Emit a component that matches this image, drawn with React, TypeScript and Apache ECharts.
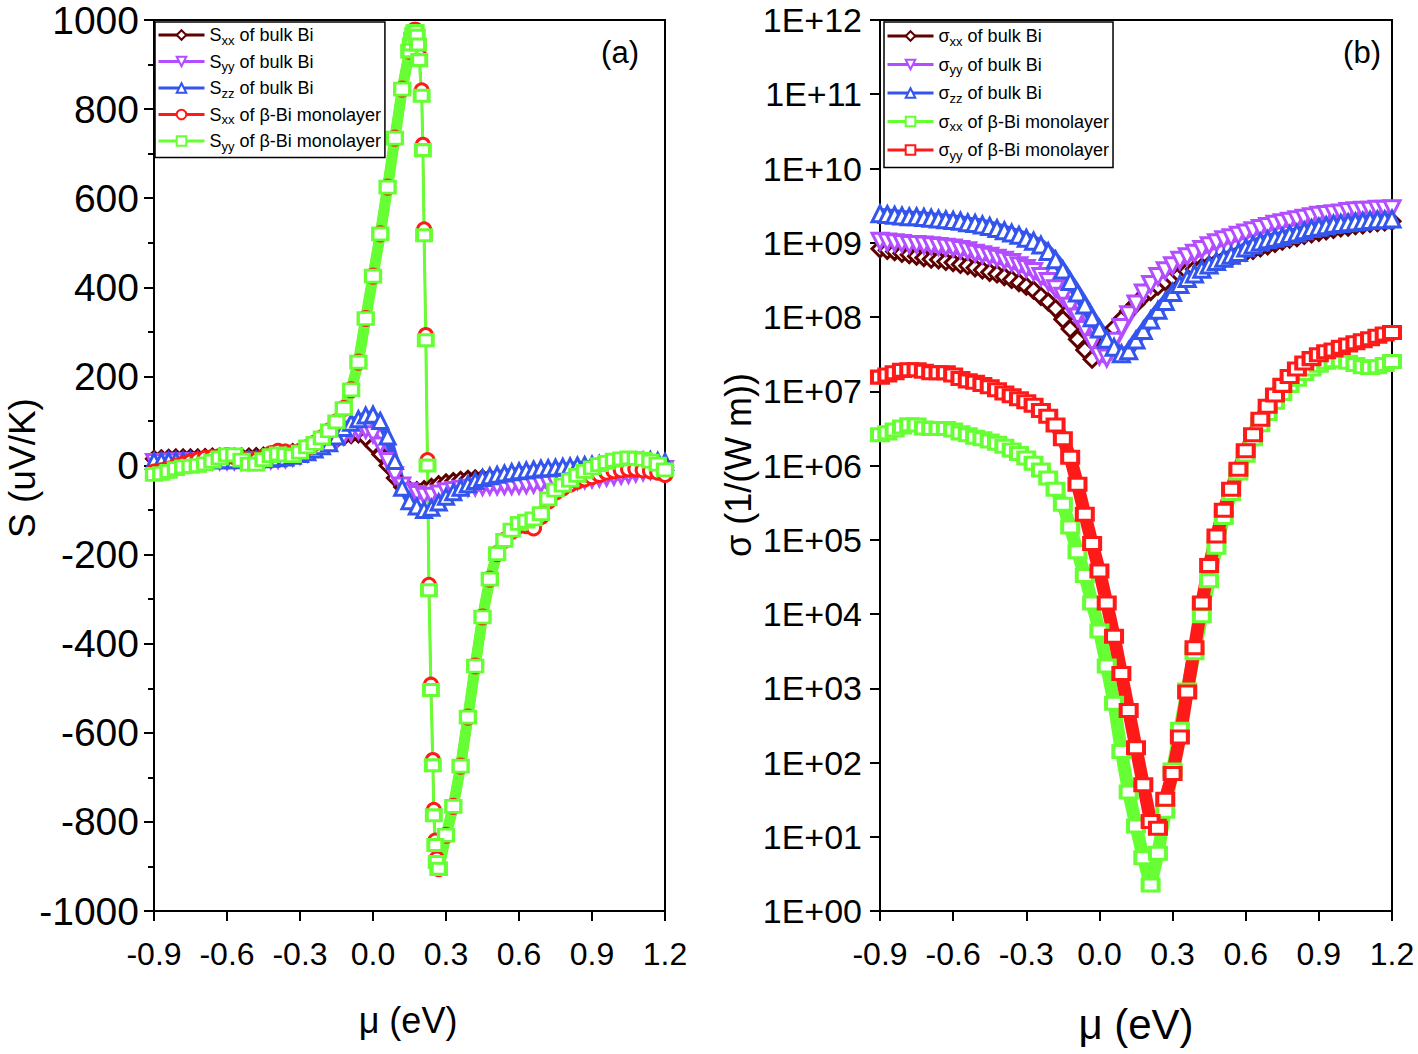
import React, { useEffect, useRef } from "react";
import * as echarts from "echarts";

// Shared chemical-potential grid (eV)
const MU = [
  -0.9, -0.87, -0.84, -0.81, -0.78, -0.75, -0.72, -0.69, -0.66, -0.63,
  -0.6, -0.57, -0.54, -0.51, -0.48, -0.45, -0.42, -0.39, -0.36, -0.33,
  -0.3, -0.27, -0.24, -0.21, -0.18, -0.15, -0.12, -0.09, -0.06, -0.03,
  0, 0.03, 0.06, 0.09, 0.12, 0.15, 0.18, 0.21, 0.24, 0.27,
  0.3, 0.33, 0.36, 0.39, 0.42, 0.45, 0.48, 0.51, 0.54, 0.57,
  0.6, 0.63, 0.66, 0.69, 0.72, 0.75, 0.78, 0.81, 0.84, 0.87,
  0.9, 0.93, 0.96, 0.99, 1.02, 1.05, 1.08, 1.11, 1.14, 1.17,
  1.2,
];

// Panel (a): Seebeck coefficient (uV/K)
const S_XX_BULK = [
  15, 16, 17, 18, 18, 18, 18, 19, 20, 20,
  20, 20, 20, 20, 21, 22, 24, 26, 28, 30,
  33, 37, 41, 46, 52, 58, 64, 68, 70, 62,
  45, 25, 0, -28, -48, -54, -55, -53, -48, -42,
  -38, -35, -32, -30, -29, -28, -27, -26, -26, -25,
  -24, -23, -22, -21, -20, -19, -18, -17, -16, -15,
  -14, -13, -12, -11, -10, -9, -8, -7, -6, -5,
  -4,
];
const S_YY_BULK = [
  8, 8, 9, 9, 9, 10, 10, 10, 10, 10,
  10, 10, 10, 11, 11, 11, 12, 13, 14, 18,
  22, 28, 35, 42, 50, 58, 66, 73, 78, 80,
  70, 45, 10, -22, -45, -58, -64, -68, -68, -63,
  -58, -55, -52, -50, -49, -48, -47, -47, -46, -46,
  -45, -44, -43, -42, -41, -40, -39, -37, -35, -33,
  -31, -29, -27, -25, -23, -21, -18, -15, -12, -10,
  -8,
];
const S_ZZ_BULK = [
  10, 10, 11, 11, 11, 11, 12, 12, 12, 12,
  12, 12, 13, 13, 13, 14, 15, 16, 18, 22,
  26, 30, 36, 43, 50, 65, 84, 96, 104, 112,
  114, 100, 65, 10, -50, -80, -92, -100, -95, -83,
  -70, -60, -50, -42, -35, -28, -24, -21, -18, -15,
  -13, -11, -9, -7, -6, -5, -3, -2, 0, 1,
  2, 3, 4, 5, 6, 8, 10, 11, 12, 10,
  8,
];
const S_XX_MONO = [
  -15, -12, -8, -2, 3, 8, 12, 16, 18, 20,
  22, 20, 14, 10, 12, 18, 26, 32, 30, 28,
  32, 40, 50, 62, 78, 98, 128, 170, 232, 330,
  425, 520, 625, 735, 845, 930, null, null, null, -905,
  -830, -765, -675, -565, -450, -340, -255, -198, -168, -148,
  -135, -135, -140, -115, -80, -60, -50, -42, -35, -30,
  -25, -20, -15, -12, -10, -8, -8, -10, -12, -15,
  -20,
];
const S_YY_MONO = [
  -20, -18, -13, -7, -3, -2, 0, 4, 10, 17,
  24, 24, 12, 3, 3, 13, 22, 26, 24, 22,
  30, 42, 50, 62, 78, 98, 128, 170, 232, 330,
  425, 520, 625, 735, 845, 930, null, null, null, -905,
  -830, -765, -675, -565, -450, -340, -255, -198, -168, -145,
  -130, -125, -120, -108, -75, -55, -44, -33, -22, -13,
  -5, 2, 7, 12, 15, 17, 16, 14, 10, 3,
  -10,
];
// The steep peak-to-valley drop of the monolayer curves
const MU_DROP = [0.15, 0.155, 0.16, 0.165, 0.17, 0.175, 0.18, 0.185, 0.19, 0.2, 0.205, 0.21, 0.217, 0.224, 0.23, 0.238, 0.246, 0.25, 0.256, 0.262, 0.27];
const S_XX_MONO_DROP = [935, 950, 962, 972, 978, 978, 970, 952, 920, 842, 720, 530, 293, 12, -268, -492, -661, -773, -842, -882, -900];
const S_YY_MONO_DROP = [930, 945, 958, 968, 974, 975, 965, 945, 910, 830, 708, 517, 281, 0, -280, -504, -673, -785, -852, -890, -905];

// Panel (b): electrical conductivity (1/(W m))
const SIG_XX_BULK = [
  8.3e8, 7.9e8, 7.6e8, 7.2e8, 6.9e8, 6.6e8, 6.3e8, 6.0e8, 5.9e8, 5.6e8,
  5.4e8, 5.1e8, 4.9e8, 4.6e8, 4.3e8, 4.0e8, 3.8e8, 3.5e8, 3.2e8, 2.9e8,
  2.6e8, 2.3e8, 1.9e8, 1.6e8, 1.3e8, 9.3e7, 6.9e7, 5.0e7, 3.6e7, 2.7e7,
  3.5e7, 5.2e7, 7.1e7, 9.3e7, 1.2e8, 1.5e8, 1.9e8, 2.2e8, 2.6e8, 3.0e8,
  3.4e8, 3.7e8, 4.1e8, 4.4e8, 4.7e8, 5.0e8, 5.4e8, 5.9e8, 6.3e8, 6.9e8,
  7.4e8, 7.9e8, 8.5e8, 9.1e8, 9.8e8, 1.05e9, 1.12e9, 1.17e9, 1.26e9, 1.32e9,
  1.38e9, 1.45e9, 1.51e9, 1.58e9, 1.62e9, 1.7e9, 1.74e9, 1.82e9, 1.86e9, 1.91e9,
  1.95e9,
];
const SIG_YY_BULK = [
  1.05e9, 1.02e9, 1.0e9, 9.8e8, 9.5e8, 9.5e8, 9.3e8, 9.1e8, 8.9e8, 8.7e8,
  8.5e8, 8.1e8, 7.8e8, 7.2e8, 6.9e8, 6.6e8, 6.2e8, 5.8e8, 5.4e8, 4.9e8,
  4.5e8, 4.1e8, 3.5e8, 3.0e8, 2.4e8, 1.9e8, 1.4e8, 1.0e8, 6.8e7, 4.5e7,
  3.0e7, 2.8e7, 4.7e7, 7.2e7, 1.07e8, 1.5e8, 2.1e8, 2.75e8, 3.5e8, 4.2e8,
  4.9e8, 5.8e8, 6.5e8, 7.2e8, 8.1e8, 9.1e8, 1.0e9, 1.1e9, 1.17e9, 1.26e9,
  1.35e9, 1.45e9, 1.55e9, 1.66e9, 1.78e9, 1.86e9, 1.95e9, 2.04e9, 2.14e9, 2.24e9,
  2.34e9, 2.4e9, 2.45e9, 2.51e9, 2.63e9, 2.69e9, 2.75e9, 2.75e9, 2.82e9, 2.82e9,
  2.88e9,
];
const SIG_ZZ_BULK = [
  2.45e9, 2.4e9, 2.34e9, 2.29e9, 2.24e9, 2.24e9, 2.19e9, 2.14e9, 2.09e9, 2.04e9,
  2.0e9, 1.95e9, 1.86e9, 1.82e9, 1.74e9, 1.66e9, 1.55e9, 1.45e9, 1.35e9, 1.26e9,
  1.15e9, 1.05e9, 9.3e8, 7.6e8, 5.9e8, 4.3e8, 3.0e8, 2.1e8, 1.45e8, 9.8e7,
  6.9e7, 5.0e7, 3.9e7, 3.2e7, 3.5e7, 4.9e7, 6.6e7, 9.1e7, 1.23e8, 1.62e8,
  2.14e8, 2.75e8, 3.3e8, 3.8e8, 4.4e8, 5.0e8, 5.6e8, 6.2e8, 6.8e8, 7.4e8,
  8.5e8, 9.3e8, 1.02e9, 1.1e9, 1.15e9, 1.2e9, 1.29e9, 1.35e9, 1.45e9, 1.55e9,
  1.62e9, 1.7e9, 1.78e9, 1.82e9, 1.86e9, 1.91e9, 1.95e9, 2.0e9, 2.04e9, 2.04e9,
  2.09e9,
];
const SIG_XX_MONO = [
  2.6e6, 2.75e6, 3.0e6, 3.3e6, 3.55e6, 3.5e6, 3.2e6, 3.16e6, 3.16e6, 3.16e6,
  3.0e6, 2.75e6, 2.6e6, 2.4e6, 2.3e6, 2.14e6, 2.0e6, 1.82e6, 1.62e6, 1.45e6,
  1.26e6, 1.07e6, 8.7e5, 6.8e5, 4.8e5, 3.0e5, 1.48e5, 6.9e4, 3.3e4, 1.41e4,
  5.9e3, 2.0e3, 630, 141, 40, 14, 5.2, 2.24, 6.0, 22,
  79, 280, 950, 3.0e3, 9.5e3, 2.8e4, 7.9e4, 2.0e5, 4.2e5, 7.9e5,
  1.38e6, 2.3e6, 3.55e6, 5.0e6, 7.1e6, 9.3e6, 1.2e7, 1.45e7, 1.74e7, 2.0e7,
  2.24e7, 2.45e7, 2.57e7, 2.57e7, 2.45e7, 2.29e7, 2.14e7, 2.09e7, 2.14e7, 2.29e7,
  2.51e7,
];
const SIG_YY_MONO = [
  1.55e7, 1.66e7, 1.78e7, 1.91e7, 1.95e7, 1.95e7, 1.86e7, 1.78e7, 1.78e7, 1.78e7,
  1.66e7, 1.48e7, 1.38e7, 1.32e7, 1.23e7, 1.15e7, 1.05e7, 9.5e6, 8.7e6, 7.9e6,
  7.2e6, 6.5e6, 5.5e6, 4.6e6, 3.5e6, 2.3e6, 1.29e6, 5.6e5, 2.2e5, 8.9e4,
  3.8e4, 1.41e4, 5.0e3, 1.58e3, 500, 158, 50, 16, 13, 32,
  71, 220, 890, 3.5e3, 1.41e4, 4.5e4, 1.12e5, 2.5e5, 4.8e5, 8.9e5,
  1.58e6, 2.6e6, 4.2e6, 6.3e6, 8.9e6, 1.2e7, 1.58e7, 2.0e7, 2.4e7, 2.75e7,
  3.1e7, 3.4e7, 3.6e7, 3.9e7, 4.2e7, 4.5e7, 4.8e7, 5.1e7, 5.5e7, 5.9e7,
  6.2e7,
];

const X_MIN = -0.9;
const X_MAX = 1.2;

const NAMES_A = [
  "Sxx of bulk Bi",
  "Syy of bulk Bi",
  "Szz of bulk Bi",
  "Sxx of β-Bi monolayer",
  "Syy of β-Bi monolayer",
];
const NAMES_B = [
  "σxx of bulk Bi",
  "σyy of bulk Bi",
  "σzz of bulk Bi",
  "σxx of β-Bi monolayer",
  "σyy of β-Bi monolayer",
];

const BROWN = "#5e0000";
const VIOLET = "#b34dff";
const BLUE = "#3355ee";
const RED = "#ff1a1a";
const GREEN = "#66ff33";
const FONT = "Liberation Sans, Arial, sans-serif";

const pairs = (xs: number[], ys: (number | null)[]) => xs.map((x, i) => [x, ys[i]]);

function bandSeries(
  name: string,
  ys: (number | null)[],
  color: string,
  symbol: string,
  axis: number,
  opts: any = {}
) {
  return {
    name,
    type: "line",
    xAxisIndex: axis,
    yAxisIndex: axis,
    data: pairs(MU, ys),
    symbol,
    symbolSize: opts.symbolSize ?? 14,
    symbolRotate: opts.symbolRotate ?? 0,
    showAllSymbol: true,
    connectNulls: false,
    lineStyle: { color, width: opts.lineWidth ?? 8 },
    itemStyle: { color: "#ffffff", borderColor: color, borderWidth: opts.borderWidth ?? 3 },
    emphasis: { disabled: true },
  };
}

function legendLabel(name: string) {
  return `{n|${name.charAt(0)}}{s|${name.substr(1, 2)}}{n|${name.substr(3)}}`;
}

const xFmt = (v: number) => {
  const r = Math.round(v * 10) / 10;
  return (Math.abs(r) < 1e-9 ? 0 : r).toFixed(1);
};

const axisCommon = {
  axisLine: { show: true, onZero: false, lineStyle: { color: "#000", width: 2 } },
  axisTick: { show: true, inside: false, length: 10, lineStyle: { color: "#000", width: 2 } },
  splitLine: { show: false },
};

export default function App() {
  const ref = useRef<HTMLDivElement>(null);
  useEffect(() => {
    if (!ref.current) return;
    const chart = echarts.init(ref.current, null, { renderer: "svg" });
    const legendBase = {
      orient: "vertical",
      backgroundColor: "#fff",
      borderColor: "#000",
      borderWidth: 1.5,
      borderRadius: 0,
      itemWidth: 46,
      itemHeight: 12,
      lineStyle: { width: 3 },
      formatter: legendLabel,
      textStyle: {
        color: "#000",
        fontFamily: FONT,
        rich: {
          n: { fontSize: 18, fontFamily: FONT, color: "#000", lineHeight: 23, verticalAlign: "middle" },
          s: { fontSize: 13, fontFamily: FONT, color: "#000", lineHeight: 13, verticalAlign: "bottom" },
        },
      },
      selectedMode: false,
    };
    const option: any = {
      animation: false,
      backgroundColor: "#fff",
      textStyle: { fontFamily: FONT },
      grid: [
        { left: 154, top: 20, width: 511, height: 891, show: true, borderColor: "#000", borderWidth: 2, backgroundColor: "transparent" },
        { left: 880, top: 20, width: 512, height: 891, show: true, borderColor: "#000", borderWidth: 2, backgroundColor: "transparent" },
      ],
      xAxis: [0, 1].map((g) => ({
        type: "value",
        gridIndex: g,
        min: X_MIN,
        max: X_MAX,
        interval: 0.3,
        ...axisCommon,
        axisLabel: { formatter: xFmt, fontSize: 32, color: "#000", fontFamily: FONT, margin: 27 },
      })),
      yAxis: [
        {
          type: "value",
          gridIndex: 0,
          min: -1000,
          max: 1000,
          interval: 200,
          ...axisCommon,
          minorTick: { show: true, splitNumber: 2, length: 6, lineStyle: { color: "#000", width: 2 } },
          axisLabel: { formatter: (v: number) => String(v), fontSize: 39, color: "#000", fontFamily: FONT, margin: 15 },
        },
        {
          type: "log",
          logBase: 10,
          gridIndex: 1,
          min: 1,
          max: 1e12,
          interval: 1,
          splitNumber: 12,
          ...axisCommon,
          axisLabel: {
            formatter: (v: number) => "1E+" + String(Math.round(Math.log10(v))).padStart(2, "0"),
            fontSize: 34,
            color: "#000",
            fontFamily: FONT,
            margin: 18,
          },
        },
      ],
      legend: [
        { ...legendBase, left: 155, top: 22, data: NAMES_A, itemGap: 6, padding: [4, 4, 5, 2] },
        { ...legendBase, left: 884, top: 22, data: NAMES_B, itemGap: 8, padding: [5, 4, 6, 2] },
      ],
      series: [
        bandSeries(NAMES_A[0], S_XX_BULK, BROWN, "diamond", 0, { lineWidth: 9, symbolSize: 15 }),
        bandSeries(NAMES_A[1], S_YY_BULK, VIOLET, "triangle", 0, { lineWidth: 9, symbolRotate: 180, symbolSize: 15 }),
        bandSeries(NAMES_A[2], S_ZZ_BULK, BLUE, "triangle", 0, { lineWidth: 9, symbolSize: 15 }),
        bandSeries(NAMES_A[3], S_XX_MONO, RED, "circle", 0, { lineWidth: 10, symbolSize: 14 }),
        {
          name: "Sxx of β-Bi monolayer (drop)",
          type: "line",
          xAxisIndex: 0,
          yAxisIndex: 0,
          data: pairs(MU_DROP, S_XX_MONO_DROP),
          symbol: "circle",
          symbolSize: 13,
          showAllSymbol: true,
          lineStyle: { color: RED, width: 2 },
          itemStyle: { color: "#fff", borderColor: RED, borderWidth: 3 },
          emphasis: { disabled: true },
        },
        bandSeries(NAMES_A[4], S_YY_MONO, GREEN, "rect", 0, { lineWidth: 11, symbolSize: [15, 12] }),
        {
          name: "Syy of β-Bi monolayer (drop)",
          type: "line",
          xAxisIndex: 0,
          yAxisIndex: 0,
          data: pairs(MU_DROP, S_YY_MONO_DROP),
          symbol: "rect",
          symbolSize: [14, 11],
          showAllSymbol: true,
          lineStyle: { color: GREEN, width: 3 },
          itemStyle: { color: "#fff", borderColor: GREEN, borderWidth: 3.5 },
          emphasis: { disabled: true },
        },
        bandSeries(NAMES_B[0], SIG_XX_BULK, BROWN, "diamond", 1, { lineWidth: 12, symbolSize: 16 }),
        bandSeries(NAMES_B[1], SIG_YY_BULK, VIOLET, "triangle", 1, { lineWidth: 12, symbolRotate: 180, symbolSize: 16 }),
        bandSeries(NAMES_B[2], SIG_ZZ_BULK, BLUE, "triangle", 1, { lineWidth: 12, symbolSize: 16 }),
        bandSeries(NAMES_B[3], SIG_XX_MONO, GREEN, "rect", 1, { lineWidth: 13, symbolSize: [16, 12], borderWidth: 3.5 }),
        bandSeries(NAMES_B[4], SIG_YY_MONO, RED, "rect", 1, { lineWidth: 13, symbolSize: [16, 12], borderWidth: 3.5 }),
      ],
      graphic: [
        { type: "text", x: 620, y: 52, style: { text: "(a)", font: `31px ${FONT}`, fill: "#000", textAlign: "center", textVerticalAlign: "middle" } },
        { type: "text", x: 1362, y: 52, style: { text: "(b)", font: `31px ${FONT}`, fill: "#000", textAlign: "center", textVerticalAlign: "middle" } },
        { type: "text", x: 22, y: 468, rotation: Math.PI / 2, style: { text: "S (uV/K)", font: `37px ${FONT}`, fill: "#000", textAlign: "center", textVerticalAlign: "middle" } },
        { type: "text", x: 408, y: 1020, style: { text: "μ (eV)", font: `36px ${FONT}`, fill: "#000", textAlign: "center", textVerticalAlign: "middle" } },
        { type: "text", x: 738, y: 465, rotation: Math.PI / 2, style: { text: "σ (1/(W m))", font: `36px ${FONT}`, fill: "#000", textAlign: "center", textVerticalAlign: "middle" } },
        { type: "text", x: 1136, y: 1024, style: { text: "μ (eV)", font: `42px ${FONT}`, fill: "#000", textAlign: "center", textVerticalAlign: "middle" } },
      ],
    };
    chart.setOption(option);
    return () => chart.dispose();
  }, []);
  return (
    <div
      ref={ref}
      style={{ position: "absolute", left: 0, top: 0, width: 1418, height: 1054, background: "#fff" }}
    />
  );
}
